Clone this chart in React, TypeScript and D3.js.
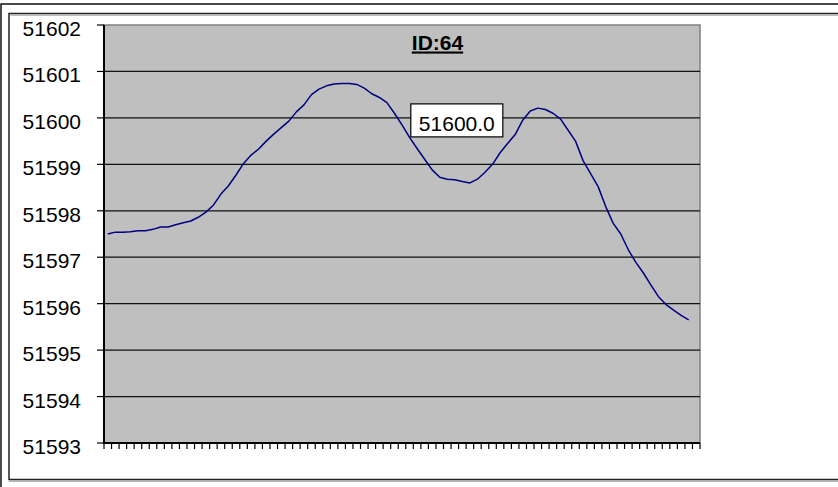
import { useEffect, useRef } from "react";
import * as d3 from "d3";

// category count on the x axis (one slot left empty at the end)
const CATEGORY_COUNT = 79;

const VALUES = [
  51597.5, 51597.54, 51597.54, 51597.55, 51597.57, 51597.57, 51597.6, 51597.65,
  51597.65, 51597.7, 51597.74, 51597.78, 51597.86, 51597.97, 51598.12, 51598.36,
  51598.54, 51598.77, 51599.02, 51599.2, 51599.33, 51599.5, 51599.65, 51599.79,
  51599.93, 51600.13, 51600.28, 51600.5, 51600.62, 51600.69, 51600.73, 51600.74,
  51600.74, 51600.72, 51600.64, 51600.52, 51600.44, 51600.33, 51600.1, 51599.85,
  51599.58, 51599.34, 51599.11, 51598.88, 51598.72, 51598.68, 51598.67, 51598.63,
  51598.6, 51598.68, 51598.83, 51599.0, 51599.25, 51599.45, 51599.64, 51599.95,
  51600.15, 51600.21, 51600.18, 51600.1, 51599.98, 51599.74, 51599.5, 51599.08,
  51598.8, 51598.52, 51598.09, 51597.73, 51597.5, 51597.16, 51596.89, 51596.66,
  51596.4, 51596.15, 51595.98, 51595.86, 51595.75, 51595.65,
];

const Y_TICKS = [51593, 51594, 51595, 51596, 51597, 51598, 51599, 51600, 51601, 51602];

const TITLE = "ID:64";
const LABEL_INDEX = 46;
const LABEL_VALUE = 51600;
const LABEL_TEXT = "51600.0";

const W = 838;
const H = 487;
const FONT = "Arial, 'Liberation Sans', sans-serif";

export default function App() {
  const svgRef = useRef<SVGSVGElement>(null);

  useEffect(() => {
    if (!svgRef.current) return;
    const svg = d3.select(svgRef.current);
    svg.selectAll("*").remove();

    const plot = { left: 104, right: 700, top: 25, bottom: 443 };

    const x = d3.scaleLinear().domain([0, CATEGORY_COUNT]).range([plot.left, plot.right]);
    const y = d3.scaleLinear().domain([51593, 51602]).range([plot.bottom, plot.top]);

    // chart frames
    svg.append("rect").attr("x", 1).attr("y", 4).attr("width", W + 10).attr("height", H + 10)
      .attr("fill", "white").attr("stroke", "#111").attr("stroke-width", 1.5);
    svg.append("rect").attr("x", 9).attr("y", 13.5).attr("width", W + 10).attr("height", 466)
      .attr("fill", "white").attr("stroke", "#222").attr("stroke-width", 1.5);
    svg.append("line").attr("x1", 9).attr("x2", W).attr("y1", 481.2).attr("y2", 481.2)
      .attr("stroke", "#999").attr("stroke-width", 1.2);
    svg.append("line").attr("x1", 10.5).attr("x2", W).attr("y1", 15.2).attr("y2", 15.2)
      .attr("stroke", "#999").attr("stroke-width", 1);

    // plot area
    svg.append("rect")
      .attr("x", plot.left).attr("y", plot.top)
      .attr("width", plot.right - plot.left).attr("height", plot.bottom - plot.top)
      .attr("fill", "#bfbfbf").attr("stroke", "#808080").attr("stroke-width", 1.5);

    // gridlines
    svg.append("g").selectAll("line")
      .data(Y_TICKS.slice(1, -1))
      .join("line")
      .attr("x1", plot.left).attr("x2", plot.right)
      .attr("y1", (d) => y(d)).attr("y2", (d) => y(d))
      .attr("stroke", "#111").attr("stroke-width", 1.2);

    // y axis
    const yAxis = svg.append("g");
    yAxis.append("line").attr("x1", plot.left).attr("x2", plot.left)
      .attr("y1", plot.top).attr("y2", plot.bottom).attr("stroke", "#000").attr("stroke-width", 2);
    yAxis.selectAll("line.tick").data(Y_TICKS).join("line").attr("class", "tick")
      .attr("x1", plot.left - 7).attr("x2", plot.left)
      .attr("y1", (d) => y(d)).attr("y2", (d) => y(d))
      .attr("stroke", "#000").attr("stroke-width", 1.2);
    yAxis.selectAll("text").data(Y_TICKS).join("text")
      .attr("x", 81).attr("y", (d) => y(d) + 11)
      .attr("text-anchor", "end")
      .attr("font-family", FONT).attr("font-size", 21).attr("fill", "#000")
      .text((d) => String(d));

    // x axis
    const xAxis = svg.append("g");
    xAxis.append("line").attr("x1", plot.left - 1).attr("x2", plot.right)
      .attr("y1", plot.bottom).attr("y2", plot.bottom).attr("stroke", "#000").attr("stroke-width", 2);
    xAxis.selectAll("line.tick").data(d3.range(CATEGORY_COUNT + 1)).join("line").attr("class", "tick")
      .attr("x1", (d) => x(d)).attr("x2", (d) => x(d))
      .attr("y1", plot.bottom).attr("y2", plot.bottom + 6)
      .attr("stroke", "#000").attr("stroke-width", 1.2);

    // series line
    const line = d3.line<number>()
      .x((_, i) => x(i + 0.5))
      .y((d) => y(d));
    svg.append("path")
      .datum(VALUES)
      .attr("fill", "none")
      .attr("stroke", "#000080")
      .attr("stroke-width", 1.5)
      .attr("stroke-linejoin", "round")
      .attr("d", line);

    // title
    svg.append("text")
      .attr("x", 437.5).attr("y", 49.5)
      .attr("text-anchor", "middle")
      .attr("font-family", FONT).attr("font-size", 21).attr("font-weight", "bold")
      .attr("text-decoration", "underline")
      .text(TITLE);

    // value label box
    const lx = x(LABEL_INDEX + 0.5);
    const ly = y(LABEL_VALUE);
    svg.append("rect")
      .attr("x", lx - 44).attr("y", ly - 14)
      .attr("width", 92).attr("height", 33)
      .attr("fill", "white").attr("stroke", "#000").attr("stroke-width", 1.2);
    svg.append("text")
      .attr("x", lx + 2).attr("y", ly + 13)
      .attr("text-anchor", "middle")
      .attr("font-family", FONT).attr("font-size", 21).attr("fill", "#000")
      .text(LABEL_TEXT);
  }, []);

  return (
    <svg
      ref={svgRef}
      width={W}
      height={H}
      style={{ position: "absolute", left: 0, top: 0, display: "block", background: "white" }}
    />
  );
}
